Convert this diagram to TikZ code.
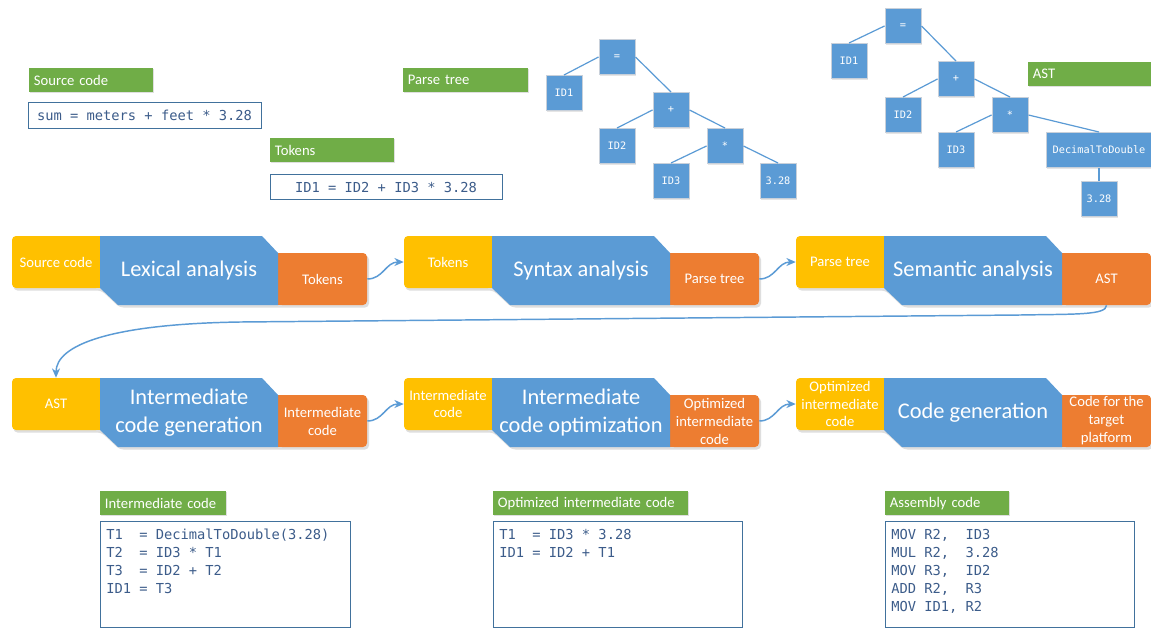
\documentclass[tikz,border=0pt]{standalone}
\usepackage{fontspec}
\setmainfont{Carlito}
\newfontfamily\codefont{DejaVu Sans Mono}
\usetikzlibrary{arrows.meta,shadows}

\definecolor{ycol}{RGB}{255,192,0}
\definecolor{bcol}{RGB}{91,155,213}
\definecolor{ocol}{RGB}{237,125,49}
\definecolor{gcol}{RGB}{112,173,71}
\definecolor{boxline}{RGB}{65,113,156}
\definecolor{codecol}{RGB}{60,92,138}
\definecolor{nodeline}{RGB}{200,208,218}
\definecolor{shadowc}{RGB}{222,222,222}

% one compiler phase: input (yellow), phase (blue), output (orange)
\newcommand\compstage[6]{%
\begin{scope}[shift={(#1,#2)}]
  \fill[shadowc, rounded corners=3pt] (1.5,2.5) -- (251.5,2.5) -- (267.5,19.5) -- (357,19.5) -- (357,71.5) -- (107.5,71.5) -- (89.5,54.5) -- (1.5,54.5) -- cycle;
  \fill[ycol] (78,0) rectangle (88,52);
  \node[ybox] (#3y) at (44,26) {#4};
  \fill[ocol] (266,17) rectangle (276,69);
  \node[obox] (#3o) at (310.5,43) {#6};
  \fill[bcol] (88,0) -- (250,0) -- (266,17) -- (266,69) -- (106,69) -- (88,52) -- cycle;
  \node[btext] (#3b) at (177,35) {#5};
\end{scope}}

\begin{document}
\begin{tikzpicture}[x=0.75pt,y=-0.75pt,
  smallfont/.style={font=\fontsize{11}{13}\selectfont},
  ybox/.style={fill=ycol, rounded corners=3pt, minimum width=66pt, minimum height=39pt,
    inner sep=1pt, text=white, align=center, smallfont},
  obox/.style={fill=ocol, rounded corners=3pt, minimum width=66.75pt, minimum height=39pt,
    inner sep=1pt, text=white, align=center, font=\fontsize{11}{13.5}\selectfont},
  btext/.style={text=white, align=center, inner sep=0pt, font=\fontsize{16.8}{21}\selectfont},
  glabel/.style={fill=gcol, text=white, anchor=north west, text width=#1, align=left,
    inner xsep=3.5pt, inner ysep=0pt, minimum height=18pt, smallfont,
    drop shadow={shadow xshift=0.6pt, shadow yshift=-0.9pt, opacity=0.25, fill=black!50}},
  codebox/.style={draw=boxline, line width=0.75pt, text=codecol, inner sep=0pt,
    font=\codefont\fontsize{10.3}{13.5}\selectfont},
  codetext/.style={anchor=north west, align=left, inner sep=0pt, text=codecol,
    font=\codefont\fontsize{10.3}{13.5}\selectfont},
  tnode/.style={fill=bcol, draw=nodeline, line width=0.75pt, minimum width=27pt,
    minimum height=26.25pt, inner sep=0pt, text=white,
    font=\codefont\fontsize{7.7}{9}\selectfont,
    drop shadow={shadow xshift=0.6pt, shadow yshift=-0.9pt, opacity=0.2, fill=black!50}},
  tedge/.style={draw=bcol, line width=0.9pt},
  conn/.style={draw=bcol, line width=1.1pt, -{Stealth[length=7pt, width=6pt]}}
]
\fill[white] (0,0) rectangle (1151,628);
\useasboundingbox (0,0) rectangle (1151,628);

% source code and tokens
\node[glabel=86pt] (lsrc) at (29,68) {Source code};
\node[codebox, minimum width=174.75pt, minimum height=19.5pt] (src) at (144.5,115) {sum = meters + feet * 3.28};
\node[glabel=86pt] (ltok) at (270,138) {Tokens};
\node[codebox, minimum width=174pt, minimum height=19pt] (tok) at (386,187) {ID1 = ID2 + ID3 * 3.28};

% parse tree
\node[glabel=86.75pt] (lpt) at (403,68) {Parse tree};
\node[tnode] (peq) at (617,57) {=};
\node[tnode] (pid1) at (564,93) {ID1};
\node[tnode] (pplus) at (671,110) {+};
\node[tnode] (pid2) at (617,146) {ID2};
\node[tnode] (pstar) at (725,146) {*};
\node[tnode] (pid3) at (671,181) {ID3};
\node[tnode] (pnum) at (778,181) {3.28};
\draw[tedge] (peq.west) -- (pid1.north);
\draw[tedge] (peq.east) -- (pplus.north);
\draw[tedge] (pplus.west) -- (pid2.north);
\draw[tedge] (pplus.east) -- (pstar.north);
\draw[tedge] (pstar.west) -- (pid3.north);
\draw[tedge] (pstar.east) -- (pnum.north);

% abstract syntax tree
\node[glabel=86pt] (last) at (1028,62) {AST};
\node[tnode] (aeq) at (903,26) {=};
\node[tnode] (aid1) at (849,61) {ID1};
\node[tnode] (aplus) at (956,79) {+};
\node[tnode] (aid2) at (903,115) {ID2};
\node[tnode] (astar) at (1010,115) {*};
\node[tnode] (aid3) at (956,150) {ID3};
\node[tnode, minimum width=79.5pt] (adtd) at (1099,150) {DecimalToDouble};
\node[tnode] (anum) at (1099,199) {3.28};
\draw[tedge] (aeq.west) -- (aid1.north);
\draw[tedge] (aeq.east) -- (aplus.north);
\draw[tedge] (aplus.west) -- (aid2.north);
\draw[tedge] (aplus.east) -- (astar.north);
\draw[tedge] (astar.west) -- (aid3.north);
\draw[tedge] (astar.east) -- (adtd.north);
\draw[tedge] (adtd.south) -- (anum.north);

% compiler phases
\compstage{12}{236}{sa}{Source code}{Lexical analysis}{Tokens}
\compstage{404}{236}{sb}{Tokens}{Syntax analysis}{Parse tree}
\compstage{796}{236}{sc}{Parse tree}{Semantic analysis}{AST}
\compstage{12}{378}{sd}{AST}{Intermediate\\code generation}{Intermediate\\code}
\compstage{404}{378}{se}{Intermediate\\code}{Intermediate\\code optimization}{Optimized\\intermediate\\code}
\compstage{796}{378}{sf}{Optimized\\intermediate\\code}{Code generation}{Code for the\\target\\platform}

% data flow between phases
\draw[conn] (sao.east) .. controls +(16,0) and +(-18,0) .. (sby.west);
\draw[conn] (sbo.east) .. controls +(16,0) and +(-18,0) .. (scy.west);
\draw[conn] (sco.south) .. controls +(0,10) and (1075,314) .. (1020,315)
  -- (240,322) .. controls (110,324) and (56,345) .. (sdy.north);
\draw[conn] (sdo.east) .. controls +(16,0) and +(-18,0) .. (sey.west);
\draw[conn] (seo.east) .. controls +(16,0) and +(-18,0) .. (sfy.west);

% generated code listings
\node[glabel=87.5pt] (lic) at (100,491) {Intermediate code};
\node[codebox, anchor=north west, minimum width=187.5pt, minimum height=79.5pt] (ic) at (100,521) {};
\node[codetext] at ([shift={(4.5pt,-6pt)}]ic.north west)
  {T1\ \ = DecimalToDouble(3.28)\\T2\ \ = ID3 * T1\\T3\ \ = ID2 + T2\\ID1 = T3};

\node[glabel=139.25pt] (loc) at (493,491) {Optimized intermediate code};
\node[codebox, anchor=north west, minimum width=186.75pt, minimum height=79.5pt] (oc) at (493,521) {};
\node[codetext] at ([shift={(4.5pt,-6pt)}]oc.north west)
  {T1\ \ = ID3 * 3.28\\ID1 = ID2 + T1};

\node[glabel=86pt] (lac) at (885,491) {Assembly code};
\node[codebox, anchor=north west, minimum width=186.75pt, minimum height=79.5pt] (ac) at (885,521) {};
\node[codetext] at ([shift={(4.5pt,-6pt)}]ac.north west)
  {MOV R2,\ \ ID3\\MUL R2,\ \ 3.28\\MOV R3,\ \ ID2\\ADD R2,\ \ R3\\MOV ID1, R2};
\end{tikzpicture}
\end{document}
